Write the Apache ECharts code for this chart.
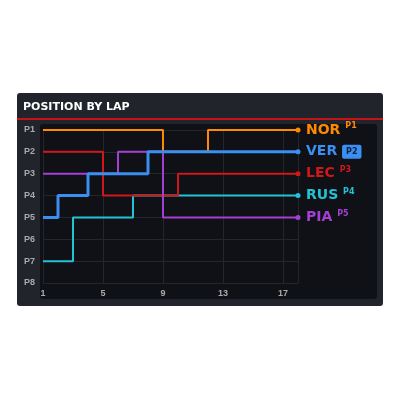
<!DOCTYPE html><html><head><meta charset="utf-8"><script src="https://cdn.jsdelivr.net/npm/echarts@6/dist/echarts.min.js"></script></head><body style="margin:0;background:#fff"><div id="c" style="width:400px;height:400px"></div><script>
const laps=[1,2,3,4,5,6,7,8,9,10,11,12,13,14,15,16,17,18];
const NOR=[1,1,1,1,1,1,1,1,2,2,2,1,1,1,1,1,1,1];
const VER=[5,4,4,3,3,3,3,2,2,2,2,2,2,2,2,2,2,2];
const LEC=[2,2,2,2,4,4,4,4,4,3,3,3,3,3,3,3,3,3];
const RUS=[7,7,5,5,5,5,4,4,4,4,4,4,4,4,4,4,4,4];
const PIA=[3,3,3,3,3,2,2,2,5,5,5,5,5,5,5,5,5,5];
const yTicks=['P1','P2','P3','P4','P5','P6','P7','P8'];
const drivers=[
 {n:'RUS',d:RUS,c:'#22c3d4',p:'P4',w:2},
 {n:'LEC',d:LEC,c:'#d01818',p:'P3',w:2},
 {n:'PIA',d:PIA,c:'#a43fd4',p:'P5',w:2},
 {n:'NOR',d:NOR,c:'#ff8a00',p:'P1',w:2},
 {n:'VER',d:VER,c:'#3a8ff0',p:'P2',w:3}];
const ch=echarts.init(document.getElementById('c'));
ch.setOption({
 backgroundColor:'#fff',animation:false,
 graphic:[
  {type:'rect',shape:{x:17,y:93,width:366,height:213,r:3},style:{fill:'#22242c'},z:-10},
  {type:'rect',shape:{x:17,y:118,width:366,height:2},style:{fill:'#c4141a'},z:-9},
  {type:'text',left:23,top:102,style:{text:'POSITION BY LAP',fill:'#fff',font:'bold 11px "DejaVu Sans"'}},
  {type:'rect',shape:{x:40,y:124,width:337,height:175,r:3},style:{fill:'#101116'},z:-8}
 ],
 grid:{left:43,right:102,top:130,bottom:117},
 xAxis:{type:'value',min:1,max:18,interval:4,axisLine:{show:false},axisTick:{show:false},
  axisLabel:{color:'#aaa',fontSize:9,fontWeight:'bold',showMaxLabel:false,margin:6},
  splitLine:{lineStyle:{color:'#24262c'}}},
 yAxis:{type:'value',inverse:true,min:1,max:8,interval:1,axisLine:{show:false},axisTick:{show:false},
  axisLabel:{color:'#aaa',fontSize:9,fontWeight:'bold',formatter:v=>yTicks[v-1]},
  splitLine:{lineStyle:{color:'#24262c'}}},
 series:drivers.map(o=>({type:'line',step:'end',name:o.n,data:laps.map((l,i)=>[l,o.d[i]]),
  lineStyle:{color:o.c,width:o.w},itemStyle:{color:o.c},symbol:'none',
  markPoint:{symbol:'circle',symbolSize:5,data:[{coord:[18,o.d[17]]}],label:{show:false},itemStyle:{color:o.c}},
  endLabel:{show:true,distance:8,formatter:o.n+(o.n==='VER'?' {b|'+o.p+'}':' {s|'+o.p+'}'),
   color:o.c,fontSize:14,fontWeight:'bold',fontFamily:'DejaVu Sans',
   rich:{s:{color:o.c,fontSize:8,fontWeight:'bold',verticalAlign:'top',padding:[0,0,8,0]},
    b:{backgroundColor:o.c,color:'#102040',fontSize:8,fontWeight:'bold',padding:[3,4],borderRadius:2}}}}))
});
</script></body></html>
